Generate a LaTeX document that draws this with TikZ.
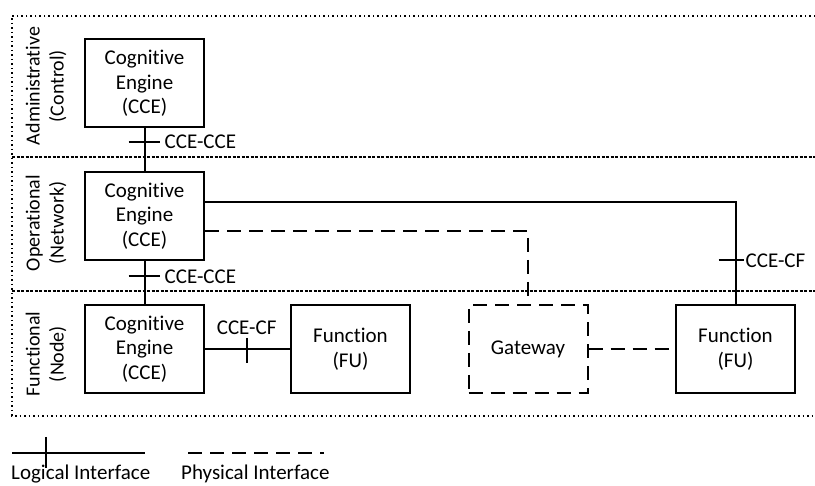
\documentclass[tikz,border=0pt]{standalone}
\usepackage{fontspec}
\setmainfont{Carlito}[Ligatures={NoCommon}]
\begin{document}
\begin{tikzpicture}[x=1pt,y=-1pt,
  every node/.style={font=\fontsize{21}{24.5}\selectfont, inner sep=0pt},
  block/.style={draw, line width=2pt, minimum width=119pt, minimum height=88pt, align=center},
  gwbox/.style={block, dash pattern=on 14pt off 8pt},
  link/.style={line width=2pt},
  phys/.style={line width=2pt, dash pattern=on 14pt off 8pt},
  frame/.style={line width=1.5pt, dash pattern=on 1.5pt off 3pt},
  divider/.style={line width=1.5pt, dash pattern=on 3pt off 1.5pt},
  layer/.style={rotate=90, align=center, font=\fontsize{20}{24}\selectfont}]
\useasboundingbox (0,0) rectangle (815,486);

% layer frame and dividers
\draw[frame] (815,16) -- (12,16) -- (12,416) -- (815,416);
\draw[divider] (12,157) -- (815,157);
\draw[divider] (12,291) -- (815,291);

% layer labels
\node[layer] (admin) at (46,86) {Administrative\\(Control)};
\node[layer] (oper) at (46,223) {Operational\\(Network)};
\node[layer] (func) at (46,354) {Functional\\(Node)};

% blocks
\node[block] (cce1) at (144.5,83.5) {Cognitive\\Engine\\(CCE)};
\node[block] (cce2) at (144.5,216) {Cognitive\\Engine\\(CCE)};
\node[block] (cce3) at (144.5,349) {Cognitive\\Engine\\(CCE)};
\node[block] (fu1) at (350.5,349) {Function\\(FU)};
\node[gwbox] (gw) at (528,349) {Gateway};
\node[block] (fu2) at (735.5,349) {Function\\(FU)};

% logical interfaces
\draw[link] (cce1.south) -- coordinate[pos=0.32] (t1) (cce2.north);
\draw[link] ([xshift=-16pt]t1) -- ([xshift=15pt]t1);
\node[anchor=west] (l1) at ([xshift=20pt]t1) {CCE-CCE};

\draw[link] (cce2.south) -- coordinate[pos=0.36] (t2) (cce3.north);
\draw[link] ([xshift=-16pt]t2) -- ([xshift=15pt]t2);
\node[anchor=west] (l2) at ([xshift=20pt]t2) {CCE-CCE};

\draw[link] (cce3.east) -- coordinate[pos=0.49] (t3) (fu1.west);
\draw[link] ([yshift=11pt]t3) -- ([yshift=-14pt]t3);
\node[anchor=south] (l3) at ([yshift=14pt]t3) {CCE-CF};

\draw[link] ([yshift=14pt]cce2.east) -| coordinate[pos=0.786] (t4) (fu2.north);
\draw[link] ([xshift=-17pt]t4) -- ([xshift=8pt]t4);
\node[anchor=west] (l4) at ([xshift=10pt]t4) {CCE-CF};

% physical interfaces
\draw[phys] ([yshift=-15pt]cce2.east) -| (gw.north);
\draw[phys] (gw.east) -- (fu2.west);

% legend
\coordinate (la) at (12,453);
\coordinate (lb) at (145,453);
\coordinate (lt) at (46,453);
\draw[link] (la) -- (lb);
\draw[link] ([yshift=16pt]lt) -- ([yshift=-15pt]lt);
\node[anchor=base west] (ll) at (11,480) {Logical Interface};
\coordinate (pa) at (188,453);
\coordinate (pb) at (324,453);
\draw[phys] (pa) -- (pb);
\node[anchor=base west] (pl) at (181,480) {Physical Interface};
\end{tikzpicture}
\end{document}
